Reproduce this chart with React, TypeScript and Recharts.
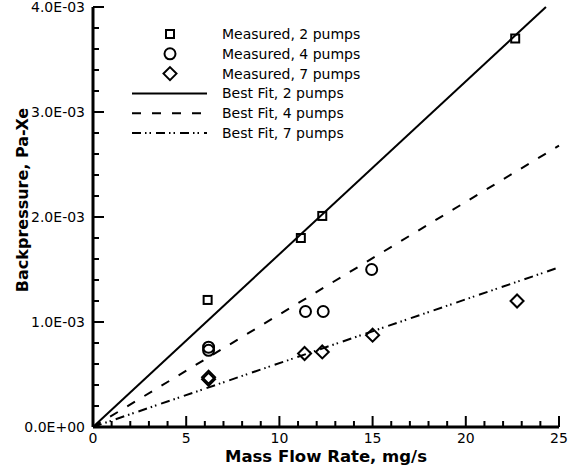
import { ScatterChart, Scatter, XAxis, YAxis, Legend } from 'recharts';

// measured backpressure vs. mass flow rate
const measured2X = [6.15, 11.15, 12.3, 22.65];
const measured2Y = [0.00121, 0.0018, 0.00201, 0.0037];
const measured4X = [6.2, 6.2, 11.4, 12.35, 14.95];
const measured4Y = [0.00076, 0.00073, 0.0011, 0.0011, 0.0015];
const measured7X = [6.2, 6.2, 11.35, 12.3, 15.0, 22.75];
const measured7Y = [0.000475, 0.000455, 0.0007, 0.000715, 0.000875, 0.0012];

// best fit line end points
const fit2X = [0, 24.3];
const fit2Y = [0, 0.004];
const fit4X = [0, 25];
const fit4Y = [0, 0.00268];
const fit7X = [0, 25];
const fit7Y = [0, 0.00152];

const xMajorTicks = [0, 5, 10, 15, 20, 25];
const xMinorTicks = [1, 2, 3, 4, 6, 7, 8, 9, 11, 12, 13, 14, 16, 17, 18, 19, 21, 22, 23, 24];
const yMajorTicks = [0, 0.001, 0.002, 0.003, 0.004];
const yMajorLabels = ['0.0E+00', '1.0E-03', '2.0E-03', '3.0E-03', '4.0E-03'];
const yMinorTicks = [0.0002, 0.0004, 0.0006, 0.0008, 0.0012, 0.0014, 0.0016, 0.0018, 0.0022, 0.0024, 0.0026, 0.0028, 0.0032, 0.0034, 0.0036, 0.0038];

const legendLabels = [
  'Measured, 2 pumps',
  'Measured, 4 pumps',
  'Measured, 7 pumps',
  'Best Fit, 2 pumps',
  'Best Fit, 4 pumps',
  'Best Fit, 7 pumps',
];

const toPoints = (xs: number[], ys: number[]) => xs.map((x, i) => ({ x, y: ys[i] }));

const DASH_4 = '9 11';
const DASH_7 = '9 4 1.5 3 1.5 5';

const Square = ({ cx, cy }: any) => (
  <rect x={cx - 4} y={cy - 4} width={8} height={8} fill="none" stroke="#000" strokeWidth={2} />
);
const Circle = ({ cx, cy }: any) => <circle cx={cx} cy={cy} r={5.5} fill="none" stroke="#000" strokeWidth={2} />;
const Diamond = ({ cx, cy }: any) => (
  <path d={`M${cx},${cy - 6.5}L${cx + 6.5},${cy}L${cx},${cy + 6.5}L${cx - 6.5},${cy}Z`} fill="none" stroke="#000" strokeWidth={2} />
);
const NoShape = () => <g />;

const near = (list: number[], v: number) => list.findIndex((t) => Math.abs(t - v) < 1e-9);

const XTick = ({ x, y, payload }: any) => {
  const axisY = y - 6;
  const major = near(xMajorTicks, payload.value) >= 0;
  return (
    <g>
      <line x1={x} y1={axisY} x2={x} y2={axisY - (major ? 11 : 6)} stroke="#000" strokeWidth={2} />
      {major && (
        <text x={x} y={axisY + 6} dy="0.72em" textAnchor="middle" fontSize={14} fill="#000">
          {payload.value}
        </text>
      )}
    </g>
  );
};

const YTick = ({ x, y, payload }: any) => {
  const axisX = x + 8;
  const idx = near(yMajorTicks, payload.value);
  return (
    <g>
      <line x1={axisX} y1={y} x2={axisX + (idx >= 0 ? 11 : 6)} y2={y} stroke="#000" strokeWidth={2} />
      {idx >= 0 && (
        <text x={axisX - 8} y={y} dy="0.36em" textAnchor="end" fontSize={14} fill="#000">
          {yMajorLabels[idx]}
        </text>
      )}
    </g>
  );
};

const renderLegend = () => (
  <svg width={300} height={120}>
    {legendLabels.map((label, i) => {
      const cy = 10 + i * 19.8;
      let sym;
      if (i === 0) sym = <Square cx={50} cy={cy} />;
      else if (i === 1) sym = <Circle cx={50} cy={cy} />;
      else if (i === 2) sym = <Diamond cx={50} cy={cy} />;
      else
        sym = (
          <line x1={12} y1={cy} x2={87} y2={cy} stroke="#000" strokeWidth={2}
            strokeDasharray={i === 4 ? DASH_4 : i === 5 ? DASH_7 : undefined} />
        );
      return (
        <g key={label}>
          {sym}
          <text x={102} y={cy} dy="0.36em" fontSize={14} fill="#000">{label}</text>
        </g>
      );
    })}
  </svg>
);

const renderYTitle = () => (
  <text x={27.5} y={200} transform="rotate(-90 27.5 200)" textAnchor="middle" fontSize={16} fontWeight="bold" fill="#000">
    Backpressure, Pa-Xe
  </text>
);

const renderXTitle = () => (
  <text x={326} y={462} textAnchor="middle" fontSize={16.5} fontWeight="bold" fill="#000">
    Mass Flow Rate, mg/s
  </text>
);

export default function App() {
  return (
    <div style={{ position: 'absolute', left: 0, top: 0, width: 569, height: 471, background: '#fff', fontFamily: '"DejaVu Sans", sans-serif' }}>
      <ScatterChart width={569} height={471} margin={{ top: 7, right: 10, bottom: 0, left: 0 }}>
        <XAxis
          type="number"
          dataKey="x"
          domain={[0, 25]}
          ticks={[...xMajorTicks, ...xMinorTicks].sort((a, b) => a - b)}
          interval={0}
          height={44}
          tickSize={0}
          tickMargin={6}
          tick={<XTick />}
          axisLine={{ stroke: '#000', strokeWidth: 3 }}
          label={renderXTitle}
        />
        <YAxis
          type="number"
          dataKey="y"
          domain={[0, 0.004]}
          ticks={[...yMajorTicks, ...yMinorTicks].sort((a, b) => a - b)}
          interval={0}
          width={93}
          tickSize={0}
          tickMargin={8}
          tick={<YTick />}
          axisLine={{ stroke: '#000', strokeWidth: 3 }}
          label={renderYTitle}
        />
        <Legend layout="horizontal" verticalAlign="middle" align="center" content={renderLegend}
          wrapperStyle={{ left: 120, top: 24, width: 300, height: 120 }} />
        <Scatter data={toPoints(fit2X, fit2Y)} line={{ stroke: '#000', strokeWidth: 2 }} shape={<NoShape />} isAnimationActive={false} />
        <Scatter data={toPoints(fit4X, fit4Y)} line={{ stroke: '#000', strokeWidth: 2, strokeDasharray: DASH_4 }} shape={<NoShape />} isAnimationActive={false} />
        <Scatter data={toPoints(fit7X, fit7Y)} line={{ stroke: '#000', strokeWidth: 2, strokeDasharray: DASH_7 }} shape={<NoShape />} isAnimationActive={false} />
        <Scatter data={toPoints(measured2X, measured2Y)} shape={<Square />} isAnimationActive={false} />
        <Scatter data={toPoints(measured4X, measured4Y)} shape={<Circle />} isAnimationActive={false} />
        <Scatter data={toPoints(measured7X, measured7Y)} shape={<Diamond />} isAnimationActive={false} />
      </ScatterChart>
    </div>
  );
}
